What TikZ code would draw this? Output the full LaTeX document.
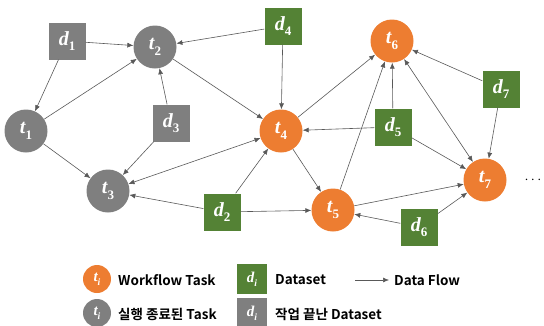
\documentclass[tikz,border=0pt]{standalone}
\usepackage{fontspec}
\newfontfamily\kr{Noto Sans CJK KR}[BoldFont={* Bold}]
\newfontfamily\lblf{Liberation Serif}
\usetikzlibrary{arrows.meta}
\definecolor{orng}{HTML}{ED7D31}
\definecolor{grn}{HTML}{548235}
\definecolor{gry}{HTML}{7F7F7F}
\definecolor{edge}{HTML}{595959}
\newcommand\lab[2]{{\lblf\bfseries\itshape #1}\raisebox{-0.28em}{\lblf\bfseries\fontsize{0.65em}{1em}\selectfont #2}}
\begin{document}
\begin{tikzpicture}[x=1pt,y=-1pt,
  task/.style={circle,fill=orng,minimum size=43pt,inner sep=0pt,text=white,font=\fontsize{20}{20}\selectfont},
  donetask/.style={task,fill=gry},
  data/.style={rectangle,fill=grn,minimum size=37pt,inner sep=0pt,text=white,font=\fontsize{20}{20}\selectfont},
  donedata/.style={data,fill=gry},
  flow/.style={draw=edge,line width=0.6pt,-{Latex[length=6pt,width=5pt]}},
  both/.style={flow,{Latex[length=6pt,width=5pt]}-{Latex[length=6pt,width=5pt]}},
  lgtask/.style={circle,fill=orng,minimum size=28pt,inner sep=0pt,text=white,font=\fontsize{15}{15}\selectfont},
  lgdata/.style={rectangle,fill=grn,minimum size=30pt,inner sep=0pt,text=white,font=\fontsize{15}{15}\selectfont},
  lgtext/.style={anchor=west,inner sep=0pt,font=\kr\bfseries\fontsize{13.5}{14}\selectfont}
]
\useasboundingbox (0,0) rectangle (544,325);
% nodes
\node[donedata] (d1) at (67,41) {\lab{d}{1}};
\node[donetask] (t1) at (26,131) {\lab{t}{1}};
\node[donetask] (t2) at (155,47) {\lab{t}{2}};
\node[donedata] (d3) at (171,123) {\lab{d}{3}};
\node[donetask] (t3) at (108,191) {\lab{t}{3}};
\node[data] (d2) at (222,212) {\lab{d}{2}};
\node[data] (d4) at (283,26) {\lab{d}{4}};
\node[task] (t4) at (281,131) {\lab{t}{4}};
\node[task] (t6) at (392,41) {\lab{t}{6}};
\node[data] (d5) at (393,127) {\lab{d}{5}};
\node[data] (d7) at (501,89) {\lab{d}{7}};
\node[task] (t7) at (485,180) {\lab{t}{7}};
\node[task] (t5) at (333,210) {\lab{t}{5}};
\node[data] (d6) at (419,227) {\lab{d}{6}};
\node[inner sep=0pt,font=\fontsize{14}{14}\selectfont] (dots) at (533,180) {$\cdots$};
% edges
\draw[flow] (d1) -- (t2);
\draw[flow] (d1) -- (t1);
\draw[flow] (t1) -- (t2);
\draw[flow] (t1) -- (t3);
\draw[flow] (d3) -- (t2);
\draw[flow] (d3) -- (t3);
\draw[flow] (d4) -- (t2);
\draw[flow] (d4) -- (t4);
\draw[flow] (t2) -- (t4);
\draw[both] (t3) -- (t4);
\draw[flow] (d2) -- (t3);
\draw[flow] (d2) -- (t4);
\draw[flow] (d2) -- (t5);
\draw[flow] (t4) -- (t5);
\draw[flow] (t4) -- (t6);
\draw[flow] (t5) -- (t6);
\draw[flow] (d5) -- (t4);
\draw[flow] (d5) -- (t6);
\draw[flow] (d5) -- (t7);
\draw[flow] (t5) -- (t7);
\draw[flow] (d6) -- (t5);
\draw[flow] (d6) -- (t7);
\draw[both] (t6) -- (t7);
\draw[flow] (d7) -- (t6);
\draw[flow] (d7) -- (t7);
% legend
\node[lgtask] (lt1) at (97,279) {\lab{t}{\itshape i}};
\node[lgtext] (lx1) at (118,280) {Workflow Task};
\node[lgdata] (ld1) at (252,279) {\lab{d}{\itshape i}};
\node[lgtext] (lx2) at (275,280) {Dataset};
\coordinate (a1) at (355,280);
\coordinate (a2) at (389,280);
\node[lgtext] (lx3) at (394,280) {Data Flow};
\draw[flow] (a1) -- (a2);
\node[lgtask,fill=gry] (lt2) at (97,313) {\lab{t}{\itshape i}};
\node[lgtext] (lx4) at (118,314) {실행 종료된 Task};
\node[lgdata,fill=gry] (ld2) at (252,313) {\lab{d}{\itshape i}};
\node[lgtext] (lx5) at (275,314) {작업 끝난 Dataset};
\end{tikzpicture}
\end{document}
